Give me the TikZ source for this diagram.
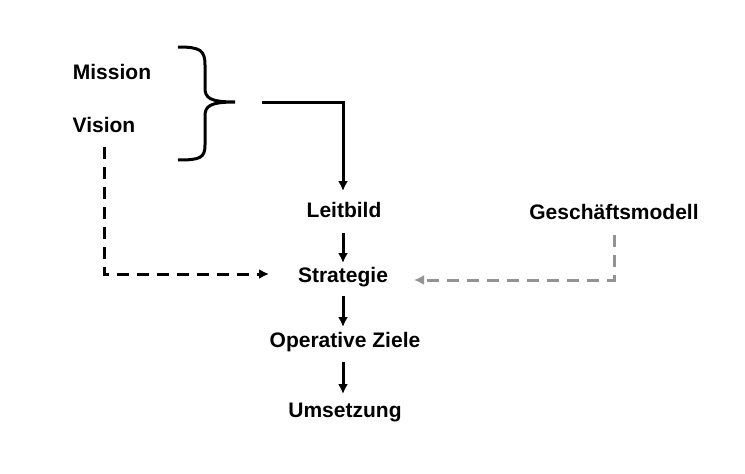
\documentclass[tikz,border=0pt]{standalone}
\usepackage{fontspec}
\setmainfont{Liberation Sans}
\usetikzlibrary{arrows.meta}
\begin{document}
\begin{tikzpicture}[x=1pt,y=-1pt,
  lbl/.style={font=\fontsize{21}{23}\selectfont\bfseries, inner sep=1pt},
  conn/.style={line width=3pt,-{Latex[length=10pt,width=10pt]}},
  dconn/.style={conn,dash pattern=on 12pt off 8pt},
  graydash/.style={dconn,draw=gray!85}]
\useasboundingbox (0,0) rectangle (745,474);
\node[lbl] (mission) at (112,72) {Mission};
\node[lbl] (vision) at (104,125) {Vision};
\node[lbl] (leit) at (344,210) {Leitbild};
\node[lbl] (strat) at (343,277) {Strategie};
\node[lbl] (op) at (345,342) {Operative Ziele};
\node[lbl] (ums) at (345,412) {Umsetzung};
\node[lbl] (gm) at (614,212) {Geschäftsmodell};
\draw[line width=3pt] (178,47) .. controls (200,47) and (205,50) .. (205,65) -- (205,88)
  .. controls (205,98) and (210,102) .. (235,102)
  .. controls (210,102) and (205,106) .. (205,116) -- (205,145)
  .. controls (205,158) and (200,160) .. (178,160);
\coordinate (bs) at (262,102);
\coordinate (l1) at (343,191);
\coordinate (l2) at (343,233);\coordinate (l3) at (343,263);
\coordinate (l4) at (343,296);\coordinate (l5) at (343,327);
\coordinate (l6) at (343,362);\coordinate (l7) at (343,394);
\coordinate (v1) at (104,147);\coordinate (v2) at (269,274);
\coordinate (g1) at (614,235);\coordinate (g2) at (414,280);
\draw[conn] (bs) -| (l1);
\draw[conn] (l2) -- (l3);
\draw[conn] (l4) -- (l5);
\draw[conn] (l6) -- (l7);
\draw[dconn] (v1) |- (v2);
\draw[graydash] (g1) |- (g2);
\end{tikzpicture}
\end{document}
